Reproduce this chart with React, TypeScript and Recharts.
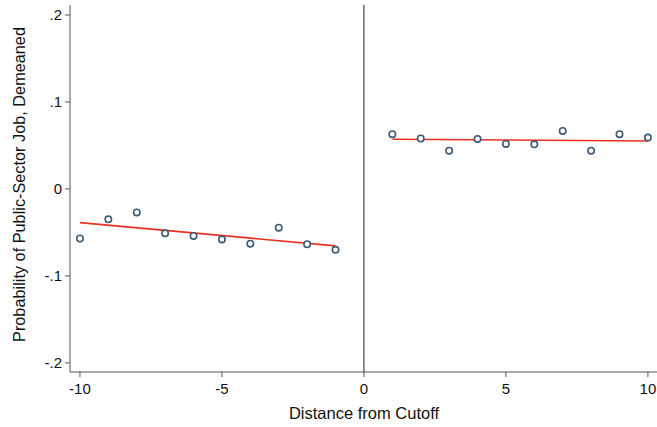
import React from 'react';
import { ComposedChart, Scatter, Line, XAxis, YAxis, ReferenceLine } from 'recharts';

// binned means
const leftX = [-10, -9, -8, -7, -6, -5, -4, -3, -2, -1];
const leftY = [-0.057, -0.035, -0.027, -0.051, -0.054, -0.058, -0.063, -0.0445, -0.0636, -0.07];
const rightX = [1, 2, 3, 4, 5, 6, 7, 8, 9, 10];
const rightY = [0.063, 0.058, 0.044, 0.0575, 0.0517, 0.0513, 0.0667, 0.044, 0.063, 0.059];

// fitted line endpoints
const leftFitX = [-10, -1];
const leftFitY = [-0.0387, -0.0655];
const rightFitX = [1, 10];
const rightFitY = [0.0571, 0.0552];

const xTicks = [-10, -5, 0, 5, 10];
const yTicks = [-0.2, -0.1, 0, 0.1, 0.2];

const zip = (xs: number[], ys: number[]) => xs.map((x, i) => ({ x, y: ys[i] }));

const points = [...zip(leftX, leftY), ...zip(rightX, rightY)];
const leftFit = zip(leftFitX, leftFitY);
const rightFit = zip(rightFitX, rightFitY);

const FONT = '"Liberation Sans", Arial, Helvetica, sans-serif';
const AXIS = '#555555';

const fmtY = (v: number) => {
  if (v === 0) return '0';
  const s = v.toFixed(1);
  return s.replace('0.', '.');
};

const HollowDot = (props: any) => {
  const { cx, cy } = props;
  if (cx == null || cy == null) return null;
  return <circle cx={cx} cy={cy} r={3.2} fill="#ffffff" stroke="#3e5877" strokeWidth={1.6} />;
};

const YLabel = (props: any) => {
  const vb = props.viewBox || {};
  const x = 19;
  const y = vb.y + vb.height / 2 - 4;
  return (
    <text x={x} y={y} transform={`rotate(-90 ${x} ${y})`} textAnchor="middle" dominantBaseline="central"
      fontFamily={FONT} fontSize={16.3} fill="#111">
      Probability of Public-Sector Job, Demeaned
    </text>
  );
};

const XLabel = (props: any) => {
  const vb = props.viewBox || {};
  return (
    <text x={364} y={419} textAnchor="middle" fontFamily={FONT} fontSize={16.5} fill="#111">
      Distance from Cutoff
    </text>
  );
};

export default function App() {
  return (
    <div style={{ position: 'absolute', left: 0, top: 0, width: 657, height: 427, background: '#fff' }}>
      <ComposedChart width={657} height={427} margin={{ top: 5, right: 0, bottom: 0, left: 0 }}>
        <XAxis
          type="number"
          dataKey="x"
          domain={[-10.35, 10.32]}
          ticks={xTicks}
          allowDataOverflow
          height={55}
          tickSize={5}
          tickMargin={6}
          stroke={AXIS}
          tick={{ fill: '#111', fontSize: 15, fontFamily: FONT }}
          label={<XLabel />}
        />
        <YAxis
          type="number"
          dataKey="y"
          domain={[-0.2105, 0.2115]}
          ticks={yTicks}
          allowDataOverflow
          width={70}
          tickSize={5}
          tickMargin={3}
          stroke={AXIS}
          tickFormatter={fmtY}
          tick={{ fill: '#111', fontSize: 15, fontFamily: FONT }}
          label={<YLabel />}
        />
        <ReferenceLine x={0} stroke="#222" strokeWidth={1} ifOverflow="extendDomain" />
        <Line data={leftFit} dataKey="y" stroke="#e8301f" strokeWidth={1.6} dot={false} isAnimationActive={false} />
        <Line data={rightFit} dataKey="y" stroke="#e8301f" strokeWidth={1.6} dot={false} isAnimationActive={false} />
        <Scatter data={points} dataKey="y" shape={<HollowDot />} isAnimationActive={false} />
      </ComposedChart>
    </div>
  );
}
